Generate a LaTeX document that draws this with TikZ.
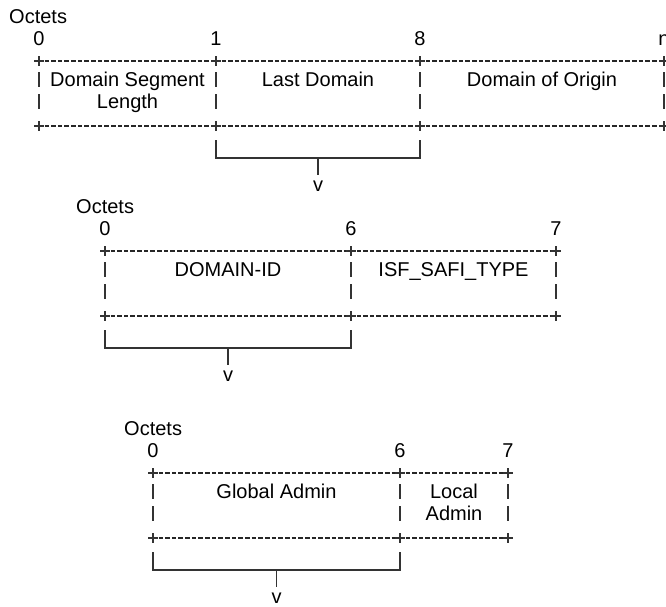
\documentclass[tikz,border=0pt]{standalone}
\usepackage{fontspec}
\setmainfont{Liberation Sans}
\usetikzlibrary{calc}
\tikzset{
  lbl/.style={inner sep=0pt, anchor=base, font=\fontsize{20}{24}\selectfont, text=black},
  dashrule/.style={line width=1.3pt, dash pattern=on 4.6pt off 2.06pt, draw=black!85},
  solidrule/.style={line width=1.3pt, draw=black!80},
  pics/plusmark/.style={code={\draw[solidrule] (-4.7,0)--(4.7,0) (0,-4.7)--(0,4.7);}},
  pics/barmark/.style={code={\draw[solidrule] (0,11)--(0,26) (0,33)--(0,48);}},
}
\begin{document}
\begin{tikzpicture}[x=1pt,y=-1pt]
\useasboundingbox (0,0) rectangle (666,606);

% ---------- diagram 1 ----------
\begin{scope}[shift={(0,61)}]
\node[lbl,anchor=base west] (oa) at (9,-38) {Octets};
\foreach \n/\x/\t in {a0/39/0,a1/216/1,a2/420/8,a3/664/n}{
  \node[lbl] (n\n) at (\x,-16) {\t};
  \coordinate (t\n) at (\x,0);
  \coordinate (b\n) at (\x,65);
  \pic at (t\n) {plusmark};
  \pic at (b\n) {plusmark};
  \pic at (t\n) {barmark};
}
\foreach \p/\q in {a0/a1,a1/a2,a2/a3}{
  \draw[dashrule] ([xshift=5.5pt]t\p) -- ([xshift=-5.5pt]t\q);
  \draw[dashrule] ([xshift=5.5pt]b\p) -- ([xshift=-5.5pt]b\q);
}
\node[lbl] (dsl1) at (127.5,25) {Domain Segment};
\node[lbl] (dsl2) at (127.5,47) {Length};
\node[lbl] (ld) at (318,25) {Last Domain};
\node[lbl] (doo) at (542,25) {Domain of Origin};
\coordinate (ka) at (216,79);
\coordinate (kb) at (420,79);
\coordinate (km) at (318,97);
\coordinate (ke) at (318,114);
\node[lbl] (va) at (318,130) {v};
\draw[solidrule] (ka) |- (km) -| (kb);
\draw[solidrule] (km) -- (ke);
\end{scope}

% ---------- diagram 2 ----------
\begin{scope}[shift={(0,251)}]
\node[lbl,anchor=base west] (ob) at (76,-38) {Octets};
\foreach \n/\x/\t in {b0/105/0,b1/351/6,b2/556/7}{
  \node[lbl] (n\n) at (\x,-16) {\t};
  \coordinate (t\n) at (\x,0);
  \coordinate (b\n) at (\x,65);
  \pic at (t\n) {plusmark};
  \pic at (b\n) {plusmark};
  \pic at (t\n) {barmark};
}
\foreach \p/\q in {b0/b1,b1/b2}{
  \draw[dashrule] ([xshift=5.5pt]t\p) -- ([xshift=-5.5pt]t\q);
  \draw[dashrule] ([xshift=5.5pt]b\p) -- ([xshift=-5.5pt]b\q);
}
\node[lbl] (did) at (228,25) {DOMAIN-ID};
\node[lbl] (isf) at (453.5,25) {ISF\_SAFI\_TYPE};
\coordinate (la) at (105,79);
\coordinate (lb) at (351,79);
\coordinate (lm) at (228,97);
\coordinate (le) at (228,114);
\node[lbl] (vb) at (228,130) {v};
\draw[solidrule] (la) |- (lm) -| (lb);
\draw[solidrule] (lm) -- (le);
\end{scope}

% ---------- diagram 3 ----------
\begin{scope}[shift={(0,473)}]
\node[lbl,anchor=base west] (oc) at (124,-38) {Octets};
\foreach \n/\x/\t in {c0/153/0,c1/400/6,c2/508/7}{
  \node[lbl] (n\n) at (\x,-16) {\t};
  \coordinate (t\n) at (\x,0);
  \coordinate (b\n) at (\x,65);
  \pic at (t\n) {plusmark};
  \pic at (b\n) {plusmark};
  \pic at (t\n) {barmark};
}
\foreach \p/\q in {c0/c1,c1/c2}{
  \draw[dashrule] ([xshift=5.5pt]t\p) -- ([xshift=-5.5pt]t\q);
  \draw[dashrule] ([xshift=5.5pt]b\p) -- ([xshift=-5.5pt]b\q);
}
\node[lbl] (ga) at (276.5,25) {Global Admin};
\node[lbl] (la1) at (454,25) {Local};
\node[lbl] (la2) at (454,47) {Admin};
\coordinate (ma) at (153,79);
\coordinate (mb) at (400,79);
\coordinate (mm) at (276.5,97);
\coordinate (me) at (276.5,114);
\node[lbl] (vc) at (276.5,130) {v};
\draw[solidrule] (ma) |- (mm) -| (mb);
\draw[solidrule] (mm) -- (me);
\end{scope}
\end{tikzpicture}
\end{document}
